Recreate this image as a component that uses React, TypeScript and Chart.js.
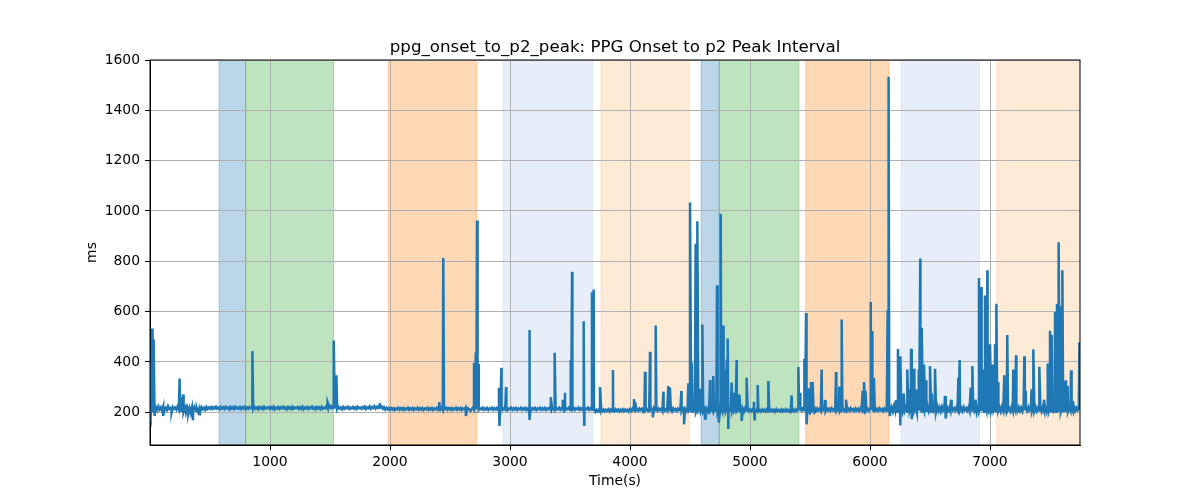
import React, { useEffect, useRef } from "react";
import { Chart, registerables } from "chart.js";

Chart.register(...registerables);

const TITLE = "ppg_onset_to_p2_peak: PPG Onset to p2 Peak Interval";

// baseline samples, one every BASE_STEP seconds starting at 0 (25 per row = 250 s)
const BASE_STEP = 10;
const baseline = [
  190, 226, 205, 224, 210, 220, 208, 223, 211, 219, 206, 222, 212, 218, 209, 224, 213, 217, 207, 221, 214, 219, 210, 223, 212,
  220, 206, 226, 202, 218, 200, 222, 209, 216, 197, 219, 206, 221, 210, 217, 203, 215, 208, 220, 212, 218, 210, 221, 213, 219,
  214, 221, 213, 220, 215, 222, 214, 219, 212, 221, 215, 220, 213, 222, 216, 219, 212, 221, 214, 220, 213, 222, 215, 219, 214,
  221, 213, 220, 215, 222, 212, 219, 214, 221, 216, 220, 213, 222, 214, 219, 212, 221, 215, 220, 213, 222, 214, 219, 216, 221,
  213, 220, 214, 222, 212, 219, 215, 221, 213, 220, 216, 222, 214, 219, 212, 221, 215, 220, 213, 222, 214, 219, 216, 221, 213,
  220, 214, 222, 212, 219, 215, 221, 213, 220, 216, 222, 214, 219, 212, 221, 215, 220, 213, 222, 214, 219, 216, 224, 215, 226,
  218, 224, 216, 221, 214, 220, 213, 222, 215, 219, 212, 221, 214, 220, 216, 222, 213, 219, 215, 221, 214, 220, 213, 222, 216,
  219, 214, 221, 215, 222, 213, 220, 216, 223, 214, 221, 217, 224, 215, 222, 218, 226, 219, 223, 214, 220, 211, 218, 212, 217,
  210, 217, 211, 216, 209, 215, 212, 218, 210, 216, 211, 217, 209, 215, 212, 218, 210, 216, 211, 217, 209, 216, 212, 218, 210,
  216, 211, 217, 209, 215, 212, 218, 210, 216, 211, 217, 209, 215, 212, 218, 210, 216, 211, 217, 209, 215, 212, 218, 210, 216,
  211, 217, 209, 215, 212, 218, 210, 216, 211, 217, 209, 215, 212, 219, 210, 216, 211, 205, 213, 218, 210, 216, 211, 217, 209,
  215, 212, 218, 210, 216, 211, 217, 209, 215, 212, 218, 210, 216, 211, 217, 209, 205, 212, 218, 210, 216, 211, 217, 209, 215,
  212, 218, 210, 216, 211, 217, 209, 215, 212, 218, 210, 216, 211, 217, 209, 215, 212, 218, 210, 216, 211, 217, 209, 215, 212,
  218, 210, 216, 211, 217, 209, 215, 212, 218, 210, 216, 211, 217, 209, 215, 212, 218, 210, 216, 211, 217, 209, 215, 212, 218,
  210, 216, 211, 217, 209, 215, 212, 218, 210, 216, 211, 217, 209, 215, 212, 218, 210, 216, 211, 205, 212, 202, 210, 204, 211,
  203, 212, 205, 211, 204, 210, 206, 212, 203, 211, 205, 210, 204, 212, 206, 211, 203, 210, 205, 212, 204, 211, 206, 210, 203,
  212, 205, 214, 207, 216, 208, 213, 206, 215, 209, 214, 204, 216, 208, 213, 206, 215, 209, 214, 205, 216, 208, 213, 206, 215,
  209, 214, 205, 216, 207, 213, 206, 215, 208, 214, 204, 216, 208, 213, 206, 215, 209, 214, 205, 216, 207, 213, 206, 215, 208,
  216, 204, 218, 206, 214, 203, 217, 207, 215, 205, 218, 204, 213, 207, 216, 203, 218, 206, 214, 204, 217, 207, 215, 203, 218,
  205, 216, 203, 218, 206, 214, 204, 217, 207, 215, 203, 218, 205, 213, 207, 216, 204, 218, 206, 214, 203, 217, 207, 215, 205,
  212, 204, 211, 203, 210, 205, 212, 204, 209, 203, 211, 205, 210, 204, 212, 203, 209, 205, 211, 204, 210, 203, 212, 205, 209,
  204, 211, 203, 210, 205, 212, 204, 209, 203, 211, 205, 210, 204, 212, 206, 211, 207, 214, 206, 215, 208, 213, 206, 216, 207,
  214, 206, 216, 208, 213, 205, 215, 207, 214, 206, 216, 208, 213, 205, 215, 207, 214, 206, 216, 208, 213, 205, 215, 207, 214,
  206, 216, 208, 213, 205, 215, 207, 214, 206, 216, 208, 213, 205, 215, 207, 214, 206, 216, 208, 213, 205, 215, 207, 214, 206,
  216, 208, 213, 205, 215, 207, 214, 206, 216, 208, 213, 205, 215, 207, 214, 206, 216, 208, 221, 203, 224, 206, 219, 202, 226,
  204, 222, 201, 225, 207, 220, 203, 226, 205, 219, 202, 224, 208, 221, 200, 225, 206, 218, 203, 223, 207, 220, 202, 226, 205,
  221, 203, 224, 207, 219, 202, 225, 206, 220, 204, 222, 208, 218, 205, 221, 207, 217, 204, 220, 208, 216, 206, 219, 209, 217,
  207, 218, 205, 220, 208, 216, 206, 219, 204, 221, 207, 217, 205, 222, 203, 224, 206, 220, 204, 225, 202, 223, 207, 219, 204,
  222, 205, 220, 207, 218, 204, 221, 206, 219, 203, 222, 207, 217, 205, 220, 208, 216, 204, 221, 206, 219, 207, 218, 205, 220,
  206, 218, 204, 221, 207, 217, 205, 220, 208, 216, 204, 219, 206, 221, 205, 218, 207, 220, 204, 222, 206, 219, 203, 224, 205,
  221, 204, 223, 206, 219, 202, 225, 207, 220, 203, 222, 205, 218, 206, 221, 204, 219, 207, 217, 205, 220, 206, 218, 208, 216,
  210,
];

// spikes and dips: [time (s), ms]
const spikes: [number, number][] = [
  [5, 180], [12, 360], [17, 533], [22, 200], [30, 490], [38, 190],
  [110, 185], [180, 200], [247, 334], [262, 240], [275, 271], [290, 230], [320, 195], [358, 168], [385, 205], [414, 188],
  [853, 443], [1480, 240], [1531, 485], [1545, 310], [1553, 347], [1914, 236],
  [2410, 240], [2444, 813], [2633, 185], [2700, 397], [2714, 438], [2725, 962], [2736, 392],
  [2908, 298], [2912, 146], [2928, 377], [2967, 300], [3161, 527], [3165, 170], [3340, 260], [3372, 437],
  [3440, 250], [3458, 278], [3506, 408], [3517, 758], [3614, 562], [3618, 150], [3683, 677], [3697, 688],
  [3750, 300], [3858, 368],
  [4033, 252], [4045, 240], [4125, 361], [4167, 441], [4190, 180], [4214, 545], [4278, 282], [4319, 304],
  [4333, 298], [4428, 285], [4450, 152], [4486, 315], [4500, 1034], [4514, 397], [4547, 870], [4561, 959],
  [4583, 294], [4603, 549], [4625, 175], [4667, 328], [4694, 344], [4725, 705], [4740, 159], [4756, 989],
  [4778, 545], [4792, 370], [4806, 410], [4814, 493], [4819, 139], [4847, 318], [4861, 278], [4889, 408],
  [4911, 271], [4930, 165], [4972, 337], [5033, 242], [5038, 172], [5064, 308], [5153, 324], [5347, 267],
  [5403, 380], [5417, 278], [5453, 413], [5467, 595], [5472, 152], [5492, 295], [5508, 320], [5522, 320],
  [5540, 200], [5597, 370], [5625, 249], [5717, 360], [5744, 302], [5764, 569], [5800, 250], [5939, 285],
  [5950, 320], [5962, 285], [6006, 638], [6017, 523], [6033, 337], [6147, 605], [6155, 1533], [6165, 185],
  [6217, 249], [6233, 452], [6250, 148], [6256, 423], [6280, 275], [6311, 370], [6325, 291], [6342, 452],
  [6348, 172], [6367, 373], [6390, 291], [6406, 370], [6419, 811], [6431, 536], [6450, 390], [6467, 327],
  [6500, 384], [6515, 275], [6542, 373], [6625, 265], [6632, 175],
  [6675, 250], [6736, 337], [6747, 408], [6839, 298], [6853, 384], [6880, 250], [6908, 734], [6925, 698],
  [6936, 370], [6958, 664], [6978, 764], [7000, 470], [7022, 390], [7042, 470], [7053, 631], [7069, 320],
  [7119, 347], [7130, 285], [7144, 507], [7194, 370], [7217, 427], [7286, 423], [7297, 285], [7347, 291],
  [7361, 450], [7411, 381], [7450, 250], [7481, 394], [7500, 524], [7514, 507], [7542, 599], [7558, 631],
  [7572, 876], [7583, 622], [7603, 764], [7614, 322], [7633, 327], [7647, 304], [7675, 367], [7690, 245],
  [7745, 478],
];

// shaded segments: [start, end, colour]
const bands: [number, number, string][] = [
  [575, 797, "rgba(31,119,180,0.3)"],
  [797, 1531, "rgba(44,160,44,0.3)"],
  [1986, 2722, "rgba(255,127,14,0.3)"],
  [2942, 3689, "rgba(174,199,232,0.3)"],
  [3758, 4494, "rgba(255,187,120,0.3)"],
  [4592, 4744, "rgba(31,119,180,0.3)"],
  [4744, 5408, "rgba(44,160,44,0.3)"],
  [5464, 6155, "rgba(255,127,14,0.3)"],
  [6258, 6914, "rgba(174,199,232,0.3)"],
  [7056, 7750, "rgba(255,187,120,0.3)"],
];

const xTicks = [1000, 2000, 3000, 4000, 5000, 6000, 7000];
const yTicks = [200, 400, 600, 800, 1000, 1200, 1400, 1600];

const FONT = "'DejaVu Sans', sans-serif";

const bandPlugin = {
  id: "bands",
  beforeDraw(chart: any) {
    const { ctx, chartArea, scales } = chart;
    const { top, bottom, left, right } = chartArea;
    ctx.save();
    ctx.beginPath();
    ctx.rect(left, top, right - left, bottom - top);
    ctx.clip();
    bands.forEach(([s, e, c]) => {
      const x0 = scales.x.getPixelForValue(s);
      const x1 = scales.x.getPixelForValue(e);
      ctx.fillStyle = c;
      ctx.fillRect(x0, top, x1 - x0, bottom - top);
      ctx.strokeStyle = c;
      ctx.lineWidth = 1;
      ctx.strokeRect(x0, top, x1 - x0, bottom - top);
    });
    ctx.restore();
  },
  afterDatasetsDraw(chart: any) {
    const { ctx, chartArea } = chart;
    const { top, bottom, left, right } = chartArea;
    ctx.save();
    ctx.strokeStyle = "#000";
    ctx.lineWidth = 1;
    ctx.strokeRect(left, top, right - left, bottom - top);
    // title centred over the axes, like matplotlib
    ctx.fillStyle = "#000";
    ctx.font = `16.67px ${FONT}`;
    ctx.textAlign = "center";
    ctx.textBaseline = "alphabetic";
    ctx.fillText(TITLE, (left + right) / 2, top - 8);
    ctx.restore();
  },
};

export default function App() {
  const canvasRef = useRef<HTMLCanvasElement | null>(null);
  const chartRef = useRef<Chart | null>(null);

  useEffect(() => {
    const canvas = canvasRef.current;
    if (!canvas) return;

    const points = [
      ...baseline.map((v, i) => ({ x: i * BASE_STEP, y: v })),
      ...spikes.map(([x, y]) => ({ x, y })),
    ].sort((a, b) => a.x - b.x);

    if (chartRef.current) chartRef.current.destroy();

    chartRef.current = new Chart(canvas, {
      type: "line",
      data: {
        datasets: [
          {
            data: points,
            borderColor: "#1f77b4",
            borderWidth: 2.5,
            pointRadius: 0,
            tension: 0,
            fill: false,
          },
        ],
      },
      options: {
        animation: false,
        responsive: true,
        maintainAspectRatio: false,
        parsing: false,
        layout: { padding: { left: 0, right: 120, top: 60, bottom: 0 } },
        plugins: {
          legend: { display: false },
          tooltip: { enabled: false },
          title: { display: false },
        },
        scales: {
          x: {
            type: "linear",
            min: 0,
            max: 7750,
            afterFit: (s: any) => {
              s.height = 55;
            },
            afterBuildTicks: (s: any) => {
              s.ticks = xTicks.map((v) => ({ value: v }));
            },
            grid: { color: "#b0b0b0", lineWidth: 1, tickColor: "#000", tickLength: 5 },
            border: { display: true, color: "#000", width: 1 },
            ticks: {
              color: "#000",
              font: { family: FONT, size: 13.9 },
              padding: 4,
              maxRotation: 0,
              callback: (v: any) => String(v),
            },
            title: {
              display: true,
              text: "Time(s)",
              color: "#000",
              font: { family: FONT, size: 13.9 },
              padding: { top: 0, bottom: 10 },
            },
          },
          y: {
            type: "linear",
            min: 70,
            max: 1600,
            afterFit: (s: any) => {
              s.width = 150;
            },
            afterBuildTicks: (s: any) => {
              s.ticks = yTicks.map((v) => ({ value: v }));
            },
            grid: { color: "#b0b0b0", lineWidth: 1, tickColor: "#000", tickLength: 5 },
            border: { display: true, color: "#000", width: 1 },
            ticks: {
              color: "#000",
              font: { family: FONT, size: 13.9 },
              padding: 5,
              callback: (v: any) => String(v),
            },
            title: {
              display: true,
              text: "ms",
              color: "#000",
              font: { family: FONT, size: 13.9 },
              padding: { top: 84, bottom: 0 },
            },
          },
        },
      },
      plugins: [bandPlugin],
    });

    return () => {
      if (chartRef.current) {
        chartRef.current.destroy();
        chartRef.current = null;
      }
    };
  }, []);

  return (
    <div style={{ position: "fixed", top: 0, left: 0, width: 1200, height: 500, background: "#fff" }}>
      <canvas ref={canvasRef} />
    </div>
  );
}
